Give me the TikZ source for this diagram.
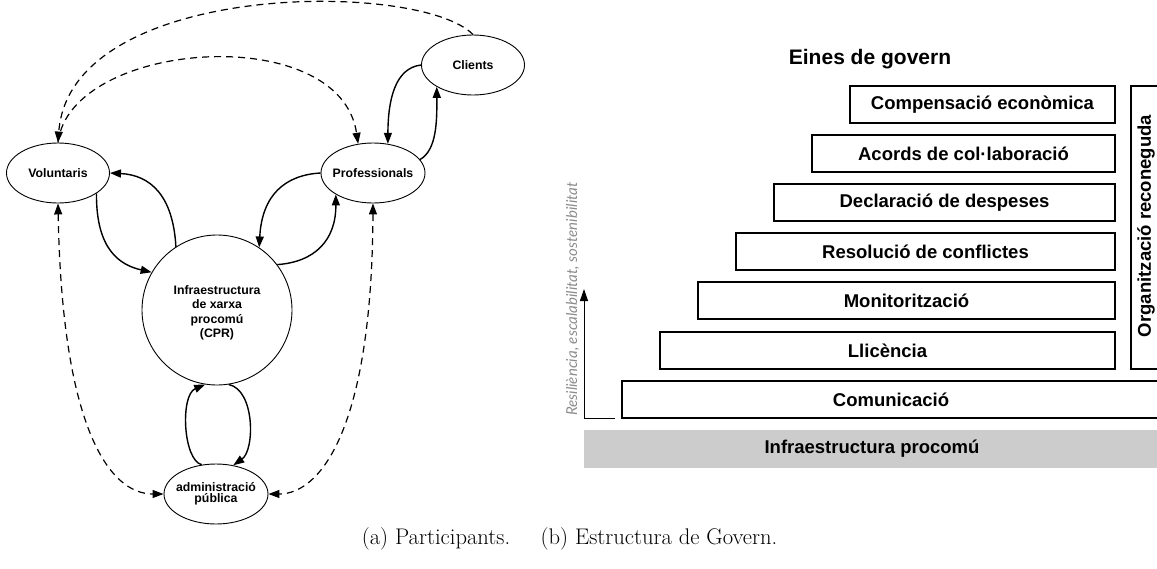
\documentclass[tikz,border=0pt]{standalone}
\usepackage{fontspec}
\newfontfamily\arialf{Liberation Sans}
\newfontfamily\latof{Lato}
\usetikzlibrary{shapes.geometric,arrows.meta}
\begin{document}
\begin{tikzpicture}[x=1pt,y=-1pt,
  part/.style={draw, ellipse, line width=0.9pt, minimum width=103pt, minimum height=60pt, inner sep=0pt, align=center,
    font=\arialf\bfseries\fontsize{12.3}{13}\selectfont},
  tip/.style={-{Triangle[length=11pt,width=8pt]}},
  link/.style={line width=1.4pt, tip},
  dlink/.style={line width=1.2pt, dash pattern=on 7pt off 5pt, tip},
  tool/.style={draw, line width=1.1pt, rectangle, minimum height=37pt, inner sep=0pt,
    font=\arialf\bfseries\fontsize{18.5}{20}\selectfont},
  capt/.style={inner sep=0pt, font=\fontsize{22.6}{26}\selectfont},
]
\clip (0,0) rectangle (1157,568);
% ---------- (a) participants ----------
\node[part] (cli) at (473,65) {\makebox[0pt]{Clients}};
\node[part] (vol) at (58,173) {\makebox[0pt]{Voluntaris}};
\node[part, minimum width=104pt] (pro) at (373,173) {\makebox[0pt]{Professionals}};
\node[part, circle, minimum size=150pt] (cpr) at (217,310) {};
\node[align=center, inner sep=0pt, font=\arialf\bfseries\fontsize{12.3}{14.5}\selectfont] (cprt) at (217,313)
  {Infraestructura\\de xarxa\\procomú\\(CPR)};
\node[part, minimum width=104pt] (adm) at (216,494) {\makebox[0pt]{\begin{tabular}{@{}c@{}}administració\\[-2pt]pública\end{tabular}}};

\draw[dlink] (cli.north) .. controls (420,-20) and (70,-20) .. (vol.north);
\draw[dlink] (vol.north) .. controls (70,40) and (340,20) .. (pro.117);
\draw[link] (cli.west) .. controls (395,68) and (388,100) .. (pro.63);
\draw[link] (pro.16) .. controls (437,150) and (437,120) .. (cli.211);
\draw[link] (pro.west) .. controls (285,175) and (262,195) .. (cpr.56);
\draw[link] (cpr.37) .. controls (315,262) and (336,240) .. (pro.210);
\draw[link] (vol.-28) .. controls (96,250) and (120,265) .. (cpr.150);
\draw[link] (cpr.123) .. controls (173,195) and (150,175) .. (vol.east);
\draw[dlink, {Triangle[length=11pt,width=8pt]}-{Triangle[length=11pt,width=8pt]}] (vol.south) .. controls (62,430) and (110,494) .. (adm.west);
\draw[dlink, {Triangle[length=11pt,width=8pt]}-{Triangle[length=11pt,width=8pt]}] (pro.south) .. controls (372,430) and (320,494) .. (adm.east);
\draw[link] (adm.116) .. controls (183,460) and (180,395) .. (cpr.261);
\draw[link] (cpr.279) .. controls (255,390) and (255,450) .. (adm.59);

\node[capt] (capa) at (436,539) {(a) Participants.};

% ---------- (b) governance structure ----------
\node[inner sep=0pt, font=\arialf\bfseries\fontsize{21}{24}\selectfont] (title) at (870,59) {Eines de govern};
\node[tool, minimum width=265pt] (comp) at (982.5,104.5) {Compensació econòmica};
\node[tool, minimum width=303pt] (acor) at (963.5,153.5) {Acords de col·laboració};
\node[tool, minimum width=341pt] (decl) at (944.5,202.5) {Declaració de despeses};
\node[tool, minimum width=379pt] (reso) at (925.5,251.5) {Resolució de conflictes};
\node[tool, minimum width=417pt] (moni) at (906.5,300.5) {Monitorització};
\node[tool, minimum width=455pt] (llic) at (887.5,350.5) {Llicència};
\node[tool, minimum width=538pt] (comu) at (891,399.5) {Comunicació};
\node[tool, draw=none, fill=black!20, minimum width=576pt, minimum height=38pt] (infra) at (872,449) {Infraestructura procomú};
\node[draw, line width=1.1pt, minimum width=44pt, minimum height=283pt, inner sep=0pt] (org) at (1153,227.5) {};
\node[rotate=90, inner sep=0pt, font=\arialf\bfseries\fontsize{18.5}{20}\selectfont] (orgt) at (1146,226) {Organització reconeguda};

\coordinate (ax0) at (584,418);
\coordinate (axt) at (584,289);
\coordinate (axr) at (615,418);
\draw[line width=1pt, -{Triangle[length=12pt,width=8pt]}] (axr) -- (ax0) -- (axt);
\node[rotate=90, anchor=base west, inner sep=0pt, text=black!45, font=\latof\itshape\fontsize{15}{17}\selectfont] (res) at (577,416)
  {Resiliència, escalabilitat, sostenibilitat};

\node[capt] (capb) at (659,539) {(b) Estructura de Govern.};
\end{tikzpicture}
\end{document}
